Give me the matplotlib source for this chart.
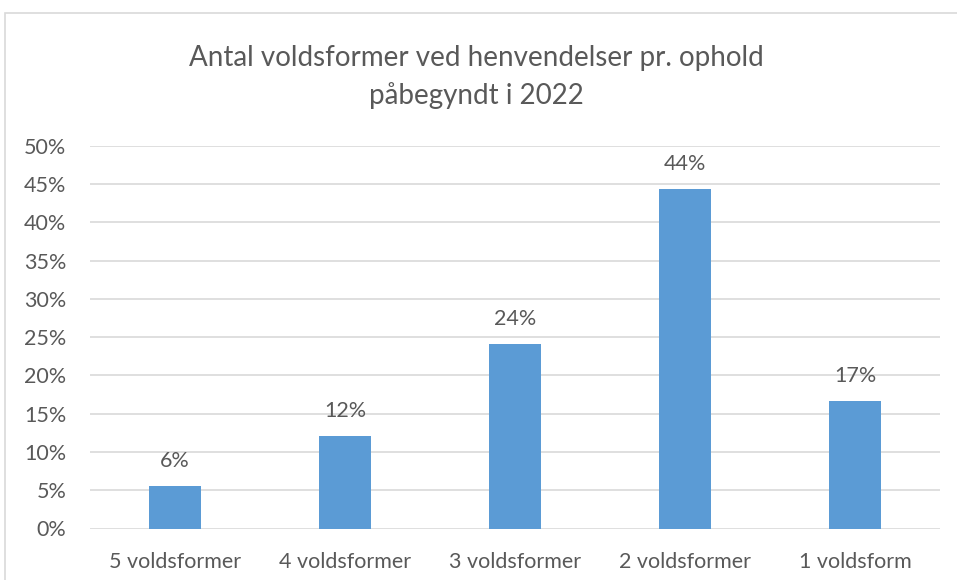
import numpy as np
import matplotlib.pyplot as plt
import matplotlib.ticker as ticker
from matplotlib.patches import Rectangle

categories = ['5 voldsformer', '4 voldsformer', '3 voldsformer', '2 voldsformer', '1 voldsform']
shares = [5.5, 12.1, 24.1, 44.4, 16.7]
labels = ['6%', '12%', '24%', '44%', '17%']
yticks = [0, 5, 10, 15, 20, 25, 30, 35, 40, 45, 50]

TEXT = '#595959'
GRID = '#D9D9D9'
BAR = '#5B9BD5'

plt.rcParams['font.family'] = ['Lato', 'DejaVu Sans']

fig = plt.figure(figsize=(9.57, 5.8), dpi=100)
# chart frame, runs off the right and bottom edges
fig.patches.append(Rectangle((5 / 957, -0.1), 1.1, 1 - 13 / 580 + 0.1, transform=fig.transFigure,
                             fill=False, edgecolor=GRID, linewidth=1.2))

ax = fig.add_axes([90 / 957, 1 - 528.5 / 580, 850 / 957, (528.5 - 145.7) / 580])
x = np.arange(len(categories))
bars = ax.bar(x, shares, width=0.31, color=BAR, zorder=3)
for rect, lab in zip(bars, labels):
    ax.annotate(lab, (rect.get_x() + rect.get_width() / 2, rect.get_height()),
                xytext=(0, 18), textcoords='offset points', ha='center', va='center',
                fontsize=15.5, color=TEXT)

ax.set_xlim(-0.5, len(categories) - 0.5)
ax.set_ylim(0, 50)
ax.set_yticks(yticks)
ax.yaxis.set_major_formatter(ticker.FuncFormatter(lambda v, p: f'{v:.0f}%'))
ax.set_xticks(x)
ax.set_xticklabels(categories)
ax.tick_params(axis='both', length=0, labelsize=15.5, labelcolor=TEXT)
ax.tick_params(axis='x', pad=17)
ax.tick_params(axis='y', pad=17)
ax.grid(axis='y', color=GRID, linewidth=1.2, zorder=0)
for s in ax.spines.values():
    s.set_visible(False)

fig.text(476 / 957, 1 - 77 / 580, 'Antal voldsformer ved henvendelser pr. ophold\npåbegyndt i 2022',
         ha='center', va='center', fontsize=20, color=TEXT, linespacing=1.5)

plt.savefig('out.png', dpi=100)
